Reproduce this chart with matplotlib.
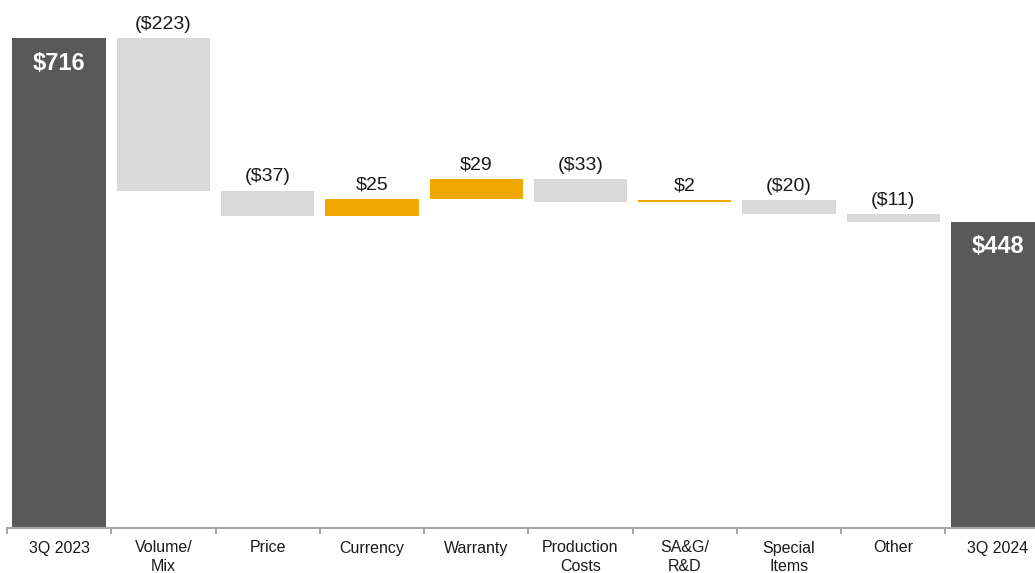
import matplotlib.pyplot as plt
import numpy as np

plt.rcParams['font.family'] = ['Liberation Sans', 'DejaVu Sans']

categories = ['3Q 2023', 'Volume/\nMix', 'Price', 'Currency', 'Warranty',
              'Production\nCosts', 'SA&G/\nR&D', 'Special\nItems', 'Other', '3Q 2024']
values = [716, -223, -37, 25, 29, -33, 2, -20, -11, 448]
is_total = [True, False, False, False, False, False, False, False, False, True]

dark = '#595959'
light = '#d9d9d9'
orange = '#f0a800'

fig = plt.figure(figsize=(10.35, 5.73), dpi=100)
ax = fig.add_axes([7 / 1035, 1 - 528 / 573, 1 - 7 / 1035, 528 / 573])

x = np.arange(len(categories))
bottoms, heights, colors = [], [], []
running = 0
for v, tot in zip(values, is_total):
    if tot:
        bottoms.append(0)
        heights.append(v)
        colors.append(dark)
        running = v
    else:
        bottoms.append(min(running, running + v))
        heights.append(abs(v))
        colors.append(orange if v > 0 else light)
        running += v

ax.bar(x, heights, bottom=bottoms, width=0.895, color=colors)

for xi, v, b, h, tot in zip(x, values, bottoms, heights, is_total):
    if tot:
        ax.annotate(f'${v}', (xi, b + h), xytext=(0, -18), textcoords='offset points',
                    ha='center', va='center', color='white', fontsize=17, fontweight='bold')
    else:
        lab = f'${v}' if v > 0 else f'(${-v})'
        ax.annotate(lab, (xi, b + h), xytext=(0, 4), textcoords='offset points',
                    ha='center', va='bottom', color='#1a1a1a', fontsize=14)

ax.set_xlim(-0.5, 9.36)
ax.set_ylim(0, 772)
ax.set_xticks(x)
ax.set_xticklabels(categories, fontsize=11.5, color='#1a1a1a', linespacing=1.3)
ax.tick_params(axis='x', length=0, pad=9)
ax.set_xticks(np.arange(len(categories)) - 0.5, minor=True)
ax.tick_params(axis='x', which='minor', length=4, color='#a6a6a6', width=1.5)
ax.set_yticks([])
for s in ['top', 'right', 'left']:
    ax.spines[s].set_visible(False)
ax.spines['bottom'].set_color('#a6a6a6')
ax.spines['bottom'].set_linewidth(1.5)

fig.savefig('out.png', dpi=100)
